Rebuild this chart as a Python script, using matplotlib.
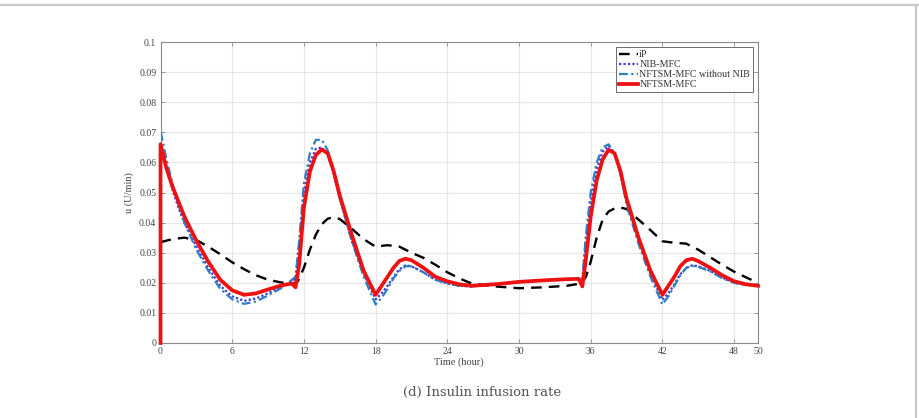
import matplotlib
matplotlib.use("Agg")
import matplotlib.pyplot as plt
from matplotlib.lines import Line2D

# ---------------- data ----------------
t_ctrl = [0, 0, 0.5, 1, 1.5, 2, 3, 4, 5, 6, 7, 8, 9, 10, 11, 11.3, 11.6, 12, 12.5, 13,
          13.5, 14, 14.5, 15, 16, 17, 18, 18.5, 19, 19.5, 20, 20.5, 21, 22, 23, 24, 25,
          26, 28, 30, 32, 34, 35, 35.3, 35.6, 36, 36.5, 37, 37.5, 38, 38.5, 39, 40, 41,
          42, 42.5, 43, 43.5, 44, 44.5, 45, 46, 47, 48, 49, 50]

u_nftsm = [0, 0.066, 0.058, 0.052, 0.047, 0.042, 0.034, 0.027, 0.021, 0.0175, 0.016,
           0.0165, 0.0178, 0.019, 0.0198, 0.0185, 0.026, 0.045, 0.057, 0.0625, 0.0643,
           0.063, 0.057, 0.049, 0.036, 0.024, 0.016, 0.019, 0.022, 0.025, 0.0273, 0.028,
           0.0275, 0.025, 0.022, 0.0205, 0.0195, 0.019, 0.0195, 0.0203, 0.0208, 0.0212,
           0.0213, 0.0188, 0.028, 0.042, 0.054, 0.061, 0.0642, 0.063, 0.057, 0.048, 0.035,
           0.024, 0.016, 0.019, 0.022, 0.0255, 0.0275, 0.028, 0.0272, 0.025, 0.0225,
           0.0205, 0.0195, 0.019]

u_nib = [0, 0.066, 0.058, 0.051, 0.045, 0.040, 0.032, 0.025, 0.019, 0.0155, 0.014,
         0.0148, 0.0165, 0.0185, 0.0205, 0.0215, 0.032, 0.050, 0.060, 0.0645, 0.065,
         0.0625, 0.056, 0.048, 0.034, 0.023, 0.0145, 0.0165, 0.019, 0.022, 0.0245,
         0.0258, 0.0255, 0.0235, 0.021, 0.0198, 0.019, 0.0188, 0.0195, 0.0203, 0.0208,
         0.0212, 0.0213, 0.0205, 0.034, 0.047, 0.058, 0.0635, 0.0655, 0.063, 0.056,
         0.047, 0.034, 0.023, 0.0143, 0.0165, 0.0195, 0.0228, 0.025, 0.0258, 0.0255,
         0.024, 0.0218, 0.020, 0.0193, 0.0192]

u_nonib = [0, 0.0705, 0.061, 0.053, 0.046, 0.040, 0.031, 0.024, 0.018, 0.0145, 0.013,
           0.0138, 0.0158, 0.018, 0.021, 0.022, 0.034, 0.053, 0.063, 0.0675, 0.0675,
           0.064, 0.057, 0.048, 0.034, 0.022, 0.0128, 0.015, 0.018, 0.0215, 0.024, 0.0255,
           0.0255, 0.0235, 0.021, 0.0198, 0.019, 0.0188, 0.0195, 0.0203, 0.0208, 0.0212,
           0.0213, 0.021, 0.036, 0.050, 0.060, 0.065, 0.066, 0.063, 0.056, 0.046, 0.033,
           0.022, 0.0128, 0.0155, 0.019, 0.0225, 0.025, 0.0256, 0.0253, 0.0238, 0.0215,
           0.020, 0.0193, 0.0192]

t_ip = [0, 1, 2, 3, 4, 5, 6, 7, 8, 9, 10, 11, 11.5, 12, 12.5, 13, 13.5, 14, 14.5, 15,
        16, 17, 18, 19, 20, 21, 22, 23, 24, 25, 26, 28, 30, 32, 34, 35.2, 35.6, 36,
        36.5, 37, 37.5, 38, 38.5, 39, 40, 41, 42, 43, 44, 45, 46, 47, 48, 49, 50]
u_ip = [0.0335, 0.0345, 0.035, 0.0342, 0.032, 0.0295, 0.0268, 0.0245, 0.0225, 0.021,
        0.0202, 0.0195, 0.0205, 0.025, 0.031, 0.036, 0.0395, 0.0413, 0.0418, 0.0412,
        0.038, 0.0345, 0.032, 0.0325, 0.032, 0.030, 0.0283, 0.026, 0.0235, 0.0215,
        0.0198, 0.0188, 0.0182, 0.0185, 0.019, 0.0198, 0.022, 0.027, 0.035, 0.041,
        0.0437, 0.0447, 0.045, 0.0445, 0.041, 0.0375, 0.0338, 0.0333, 0.033, 0.031,
        0.0285, 0.026, 0.0237, 0.0218, 0.020]

labels = ["iP", "NIB-MFC", "NFTSM-MFC without NIB", "NFTSM-MFC"]
x_ticks = [0, 6, 12, 18, 24, 30, 36, 42, 48, 50]
y_ticks = [0, 0.01, 0.02, 0.03, 0.04, 0.05, 0.06, 0.07, 0.08, 0.09, 0.1]
y_ticklabels = ["0", "0.01", "0.02", "0.03", "0.04", "0.05", "0.06", "0.07", "0.08", "0.09", "0.1"]

# ---------------- figure ----------------
fig = plt.figure(figsize=(9.19, 4.18), dpi=100)
fig.patch.set_facecolor("white")

# card border: top and right edges
fig.add_artist(Line2D([0, 1], [1 - 4.5 / 418, 1 - 4.5 / 418], transform=fig.transFigure,
                      color="#c8c8c8", lw=1.6))
fig.add_artist(Line2D([915.5 / 919, 915.5 / 919], [0, 1 - 4.5 / 418], transform=fig.transFigure,
                      color="#c8c8c8", lw=1.6))

ax = fig.add_axes([160.5 / 919, 1 - 343 / 418, (758 - 160.5) / 919, (343 - 42) / 418])

serif = ["Liberation Serif", "DejaVu Serif"]

ax.plot(t_ip, u_ip, color="black", lw=1.7, ls=(0, (4.5, 3)), label=labels[0], zorder=3)
ax.plot(t_ctrl, u_nib, color="#3a3adf", lw=1.6, ls=(0, (1, 1)), label=labels[1], zorder=4)
ax.plot(t_ctrl, u_nonib, color="#2e7fc4", lw=1.6, ls=(0, (4, 1.5, 1, 1.5)), label=labels[2], zorder=4)
ax.plot(t_ctrl, u_nftsm, color="#ee1111", lw=2.7, ls="-", label=labels[3], zorder=6,
        clip_on=False)

ax.set_xlim(0, 50)
ax.set_ylim(0, 0.1)
ax.set_xticks(x_ticks)
ax.set_xticklabels([str(v) for v in x_ticks])
ax.set_yticks(y_ticks)
ax.set_yticklabels(y_ticklabels)
ax.grid(True, color="#e6e6e6", lw=0.8)
ax.set_axisbelow(True)
ax.tick_params(direction="in", length=3, width=0.6, colors="#888888", labelcolor="#444444",
               labelsize=7, top=True, right=True, pad=3)
for lab in ax.get_xticklabels() + ax.get_yticklabels():
    lab.set_family(serif)
for sp in ax.spines.values():
    sp.set_color("#8a8a8a")
    sp.set_linewidth(0.8)

ax.set_xlabel("Time (hour)", family=serif, fontsize=7.5, color="#444444", labelpad=1)
ax.set_ylabel("u (U/min)", family=serif, fontsize=7.5, color="#444444", labelpad=4)

leg = ax.legend(loc="upper right", prop={"family": serif, "size": 7.2}, frameon=True,
                fancybox=False, edgecolor="#555555", framealpha=1, borderpad=0.3,
                labelspacing=0.1, handlelength=1.9, handletextpad=0.1,
                borderaxespad=0.5)
leg.get_frame().set_linewidth(0.6)
for txt in leg.get_texts():
    txt.set_color("#333333")

fig.text((392 + 573) / 2 / 919, 1 - 392 / 418, "(d) Insulin infusion rate",
         family=["DejaVu Serif"], fontsize=9.5, color="#555555", ha="center", va="center")

fig.savefig("out.png", dpi=100, facecolor="white")
